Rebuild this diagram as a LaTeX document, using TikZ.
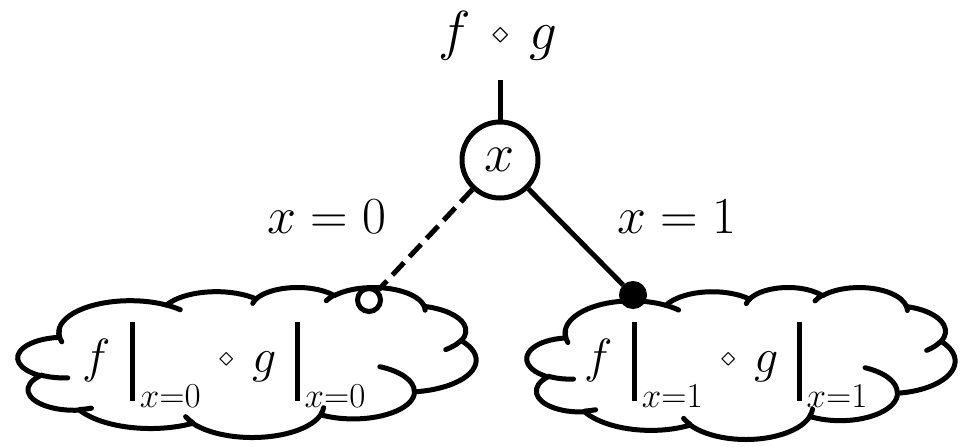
\RequirePackage{fix-cm}
\documentclass[tikz,border=0pt]{standalone}
\usepackage{amsmath}
\usepackage{graphicx}
\pgfmathdeclarefunction{pang}{3}{%
  \begingroup
    \pgfmathparse{atan2(#1*sin(#3),#2*cos(#3))}%
    \pgfmathsmuggle\pgfmathresult
  \endgroup}
\pgfmathdeclarefunction{pdel}{4}{%
  \begingroup
    \pgfmathparse{mod(pang(#1,#2,#3+#4)-pang(#1,#2,#3)+720,360)}%
    \pgfmathsmuggle\pgfmathresult
  \endgroup}
\newcommand\carc[4]{arc[start angle={pang(#1,#2,#3)},delta angle={pdel(#1,#2,#3,#4)},x radius=#1,y radius=#2]}
\newcommand\pptcloud[4]{%
  \pgfmathsetmacro\cloudxu{#3/4320}%
  \pgfmathsetmacro\cloudyu{#4/4320}%
  \begin{scope}[shift={(#1pt,-#2pt)},x=\cloudxu pt,y=-\cloudyu pt]
  \filldraw[cloudline,fill=white] (390,1437)
    \carc{675.3}{919.0}{-190.4875}{123.7805}
    \carc{533.3}{726.7}{-144.1024}{89.9452}
    \carc{436.5}{594.5}{-145.8079}{99.7230}
    \carc{485.7}{659.5}{-130.9861}{117.2417}
    \carc{533.3}{727.3}{-78.7089}{109.0269}
    \carc{677.5}{922.0}{-46.2673}{130.2690}
    \carc{578.5}{786.7}{0.6250}{114.0333}
    \carc{675.2}{921.5}{22.4516}{115.1726}
    \carc{772.0}{1054.3}{66.2426}{75.7110}
    \carc{436.0}{591.8}{-274.9421}{146.7356}
    \carc{434.5}{594.5}{-246.8285}{152.5189}
    -- cycle;
  \draw[cloudline]
    (469.3,2617.7) \carc{434.5}{594.5}{86.742}{26.4295}
    (692.8,3489.9) \carc{436.0}{591.8}{73.6105}{11.4475}
    (1647.8,3909.0) \carc{675.2}{921.5}{137.6242}{14.0811}
    (2882.7,3475.1) \carc{675.2}{921.5}{6.4533}{15.9984}
    (3412.9,2295.4) \carc{578.5}{786.7}{-70.2924}{70.9174}
    (4179.8,1535.4) \carc{533.3}{727.3}{30.3180}{27.7515}
    (3832.4,542.6) \carc{485.7}{659.5}{-13.7443}{14.8589}
    (2907.8,395.2) \carc{485.7}{659.5}{-149.1815}{18.1954}
    (2214.1,472.0) \carc{436.5}{594.5}{-163.4943}{17.6864}
    (1400.0,519.2) \carc{675.3}{919.0}{-66.7070}{12.3194}
    (412.7,1578.9) \carc{675.3}{919.0}{159.1261}{28.2914};
  \end{scope}}
\newcommand\sdia{\mkern3mu\mathbin{\vcenter{\hbox{\scalebox{0.6}{$\diamond$}}}}\mkern3mu}
\newcommand\mybar[1]{{\rule[-29pt]{4.5pt}{79pt}}_{\lower5pt\hbox{\kern5pt\fontsize{35}{40}\selectfont$x{=}#1$}}}
\begin{document}
\begin{tikzpicture}[x=1pt,y=-1pt,
  cloudline/.style={line width=5pt,line join=round,line cap=round},
  lbl/.style={inner sep=0pt,font=\fontsize{52}{60}\selectfont},
  toplbl/.style={inner sep=0pt,font=\fontsize{55}{62}\selectfont},
  cldtext/.style={inner sep=0pt,anchor=base west,font=\fontsize{48}{56}\selectfont},
  varnode/.style={circle,draw,line width=5pt,minimum size=76pt,inner sep=0pt,font=\fontsize{54}{60}\selectfont},
  endpt/.style={circle,draw,line width=5pt,minimum size=23pt,inner sep=0pt},
  edge/.style={line width=5pt},
  dashededge/.style={line width=5pt,dash pattern=on 17pt off 8pt}]
\useasboundingbox (0,0) rectangle (969,447);
\pptcloud{18}{287}{458}{150}
\pptcloud{527}{287}{428}{152}
\node[toplbl] (fg) at (498,36) {$f\sdia g$};
\coordinate (top) at (500,80);
\node[varnode] (xn) at (500,160) {$x$};
\node[lbl] (e0) at (327,217) {$x=0$};
\node[lbl] (e1) at (677,217) {$x=1$};
\node[endpt,fill=white] (l0) at (369,300) {};
\node[endpt,fill=black] (l1) at (633,295) {};
\node[cldtext] (t0) at (82,372) {$f\hspace{20pt}\mybar{0}\sdia g\hspace{18pt}\mybar{0}$};
\node[cldtext] (t1) at (584,372) {$f\hspace{20pt}\mybar{1}\sdia g\hspace{18pt}\mybar{1}$};
\draw[edge] (top) -- (xn.north);
\draw[dashededge] (xn) -- (l0);
\draw[edge] (xn) -- (l1);
\end{tikzpicture}
\end{document}
